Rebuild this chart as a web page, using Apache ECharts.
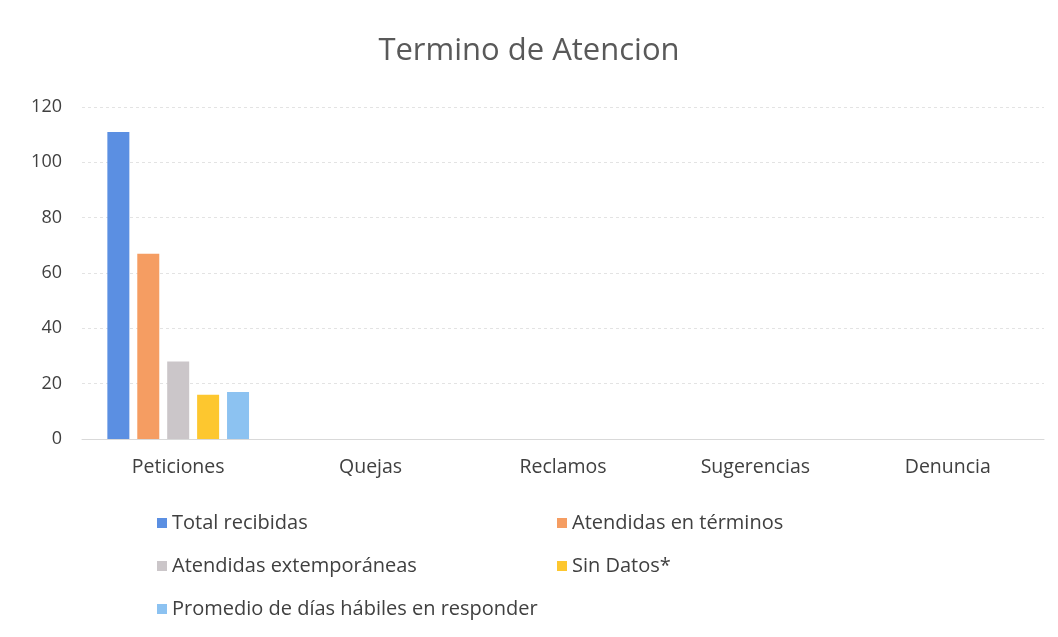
<!DOCTYPE html>
<html>
<head>
    <meta charset="utf-8">
    <title>Termino de Atencion</title>
    <script src="https://cdn.jsdelivr.net/npm/echarts@6/dist/echarts.min.js"></script>
    <style>
        html, body { margin: 0; padding: 0; background: #fff; }
        #chart { width: 1058px; height: 637px; }
    </style>
</head>
<body>
    <div id="chart"></div>
    <script type="text/javascript">
        var categories = ['Peticiones', 'Quejas', 'Reclamos', 'Sugerencias', 'Denuncia'];
        var seriesNames = ['Total recibidas', 'Atendidas en términos', 'Atendidas extemporáneas', 'Sin Datos*', 'Promedio de días hábiles en responder'];
        var totalRecibidas = [111, 0, 0, 0, 0];
        var atendidasTermino = [67, 0, 0, 0, 0];
        var atendidasExtemp = [28, 0, 0, 0, 0];
        var sinDatos = [16, 0, 0, 0, 0];
        var promedioDias = [17, 0, 0, 0, 0];
        var colors = ['#5b8fe2', '#f59d62', '#cbc6c9', '#fdc72f', '#8cc2f1'];

        var allData = [totalRecibidas, atendidasTermino, atendidasExtemp, sinDatos, promedioDias];
        var font = '"Open Sans", "Noto Sans", sans-serif';

        // legend: two columns, three rows
        var legendPos = [[152, 508], [552, 508], [152, 551], [552, 551], [152, 594]];
        var legends = [];
        for (var i = 0; i < seriesNames.length; i++) {
            legends.push({
                data: [seriesNames[i]],
                left: legendPos[i][0],
                top: legendPos[i][1],
                icon: 'rect',
                itemWidth: 10,
                itemHeight: 10,
                itemGap: 4,
                selectedMode: false,
                textStyle: { fontFamily: font, fontSize: 20, color: '#404040' }
            });
        }

        var series = [];
        for (var i = 0; i < seriesNames.length; i++) {
            series.push({
                name: seriesNames[i],
                type: 'bar',
                data: allData[i],
                barWidth: 22,
                barGap: '36%',
                itemStyle: { color: colors[i] }
            });
        }

        var option = {
            animation: false,
            backgroundColor: '#fff',
            title: {
                text: 'Termino de Atencion',
                left: 'center',
                top: 31,
                textStyle: { fontFamily: font, fontSize: 31, fontWeight: 'normal', color: '#595959' }
            },
            legend: legends,
            grid: { left: 82, right: 14, top: 107, bottom: 198 },
            xAxis: {
                type: 'category',
                data: categories,
                axisLine: { lineStyle: { color: '#d9d9d9' } },
                axisTick: { show: false },
                axisLabel: { fontFamily: font, fontSize: 19.5, color: '#404040', margin: 18 }
            },
            yAxis: {
                type: 'value',
                min: 0,
                max: 120,
                interval: 20,
                axisLine: { show: false },
                axisTick: { show: false },
                axisLabel: { fontFamily: font, fontSize: 18, color: '#404040', margin: 20 },
                splitLine: { lineStyle: { color: '#e3e3e3', type: [3, 3] } }
            },
            series: series
        };

        var chart = echarts.init(document.getElementById('chart'));
        chart.setOption(option);
    </script>
</body>
</html>
